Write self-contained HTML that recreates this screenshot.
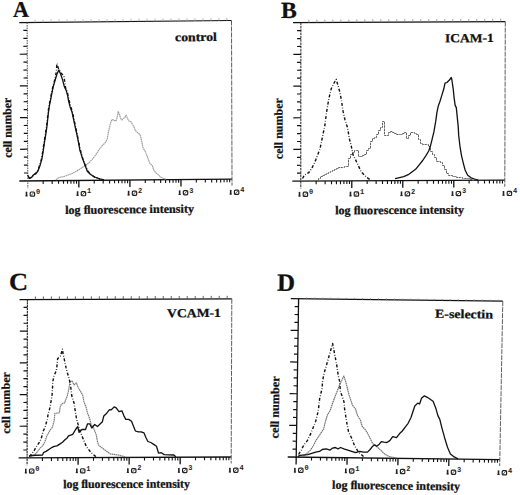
<!DOCTYPE html>
<html><head><meta charset="utf-8"><style>
html,body{margin:0;padding:0;background:#fff;}
body{width:520px;height:495px;overflow:hidden;}
svg{display:block;}
.t{font-family:"Liberation Serif",serif;font-weight:bold;fill:#111;stroke:#111;stroke-width:0.25px;}
.m{font-family:"Liberation Mono",monospace;font-weight:bold;fill:#222;}
</style></head><body>
<svg width="520" height="495" viewBox="0 0 520 495">
<rect width="520" height="495" fill="#fff"/>
<line x1="19.28" y1="22.58" x2="231.5" y2="20.5" stroke="#111" stroke-width="1.25"/>
<line x1="19.29" y1="180.98" x2="232" y2="179.1" stroke="#111" stroke-width="1.3"/>
<line x1="27.1" y1="22.5" x2="27.83" y2="188.2" stroke="#555" stroke-width="1.0" stroke-dasharray="1.6 0.9"/>
<line x1="231.5" y1="20.5" x2="232.02" y2="185.61" stroke="#555" stroke-width="0.95" stroke-dasharray="5 1"/>
<line x1="23.33" y1="30.46" x2="27.14" y2="30.42" stroke="#111" stroke-width="1.2"/>
<line x1="23.36" y1="38.38" x2="27.17" y2="38.34" stroke="#111" stroke-width="1.2"/>
<line x1="23.4" y1="46.3" x2="27.2" y2="46.26" stroke="#111" stroke-width="1.2"/>
<line x1="19.73" y1="54.25" x2="27.24" y2="54.18" stroke="#111" stroke-width="1.2"/>
<line x1="23.47" y1="62.14" x2="27.28" y2="62.1" stroke="#111" stroke-width="1.2"/>
<line x1="23.5" y1="70.06" x2="27.31" y2="70.02" stroke="#111" stroke-width="1.2"/>
<line x1="23.54" y1="77.98" x2="27.35" y2="77.94" stroke="#111" stroke-width="1.2"/>
<line x1="19.87" y1="85.93" x2="27.38" y2="85.86" stroke="#111" stroke-width="1.2"/>
<line x1="23.61" y1="93.82" x2="27.41" y2="93.78" stroke="#111" stroke-width="1.2"/>
<line x1="23.64" y1="101.74" x2="27.45" y2="101.7" stroke="#111" stroke-width="1.2"/>
<line x1="23.68" y1="109.66" x2="27.48" y2="109.62" stroke="#111" stroke-width="1.2"/>
<line x1="20.01" y1="117.61" x2="27.52" y2="117.54" stroke="#111" stroke-width="1.2"/>
<line x1="23.75" y1="125.49" x2="27.55" y2="125.46" stroke="#111" stroke-width="1.2"/>
<line x1="23.79" y1="133.41" x2="27.59" y2="133.38" stroke="#111" stroke-width="1.2"/>
<line x1="23.82" y1="141.33" x2="27.62" y2="141.3" stroke="#111" stroke-width="1.2"/>
<line x1="20.15" y1="149.29" x2="27.66" y2="149.22" stroke="#111" stroke-width="1.2"/>
<line x1="23.89" y1="157.17" x2="27.7" y2="157.14" stroke="#111" stroke-width="1.2"/>
<line x1="23.93" y1="165.09" x2="27.73" y2="165.06" stroke="#111" stroke-width="1.2"/>
<line x1="23.96" y1="173.01" x2="27.77" y2="172.98" stroke="#111" stroke-width="1.2"/>
<line x1="35.08" y1="19.62" x2="35.09" y2="22.42" stroke="#aaa" stroke-width="0.8"/>
<line x1="43.07" y1="19.54" x2="43.08" y2="22.34" stroke="#aaa" stroke-width="0.8"/>
<line x1="51.06" y1="19.46" x2="51.07" y2="22.27" stroke="#aaa" stroke-width="0.8"/>
<line x1="59.05" y1="19.39" x2="59.07" y2="22.19" stroke="#aaa" stroke-width="0.8"/>
<line x1="67.05" y1="19.31" x2="67.06" y2="22.11" stroke="#aaa" stroke-width="0.8"/>
<line x1="75.04" y1="19.23" x2="75.05" y2="22.03" stroke="#aaa" stroke-width="0.8"/>
<line x1="83.03" y1="19.15" x2="83.04" y2="21.95" stroke="#aaa" stroke-width="0.8"/>
<line x1="91.02" y1="19.07" x2="91.03" y2="21.87" stroke="#aaa" stroke-width="0.8"/>
<line x1="99.01" y1="18.99" x2="99.02" y2="21.8" stroke="#aaa" stroke-width="0.8"/>
<line x1="107.01" y1="18.92" x2="107.02" y2="21.72" stroke="#aaa" stroke-width="0.8"/>
<line x1="115" y1="18.84" x2="115.01" y2="21.64" stroke="#aaa" stroke-width="0.8"/>
<line x1="122.99" y1="18.76" x2="123" y2="21.56" stroke="#aaa" stroke-width="0.8"/>
<line x1="130.98" y1="18.68" x2="130.99" y2="21.48" stroke="#aaa" stroke-width="0.8"/>
<line x1="138.97" y1="18.6" x2="138.98" y2="21.41" stroke="#aaa" stroke-width="0.8"/>
<line x1="146.96" y1="18.52" x2="146.97" y2="21.33" stroke="#aaa" stroke-width="0.8"/>
<line x1="154.96" y1="18.45" x2="154.97" y2="21.25" stroke="#aaa" stroke-width="0.8"/>
<line x1="162.95" y1="18.37" x2="162.96" y2="21.17" stroke="#aaa" stroke-width="0.8"/>
<line x1="170.94" y1="18.29" x2="170.95" y2="21.09" stroke="#aaa" stroke-width="0.8"/>
<line x1="178.93" y1="18.21" x2="178.94" y2="21.01" stroke="#aaa" stroke-width="0.8"/>
<line x1="186.92" y1="18.13" x2="186.93" y2="20.94" stroke="#aaa" stroke-width="0.8"/>
<line x1="194.91" y1="18.05" x2="194.92" y2="20.86" stroke="#aaa" stroke-width="0.8"/>
<line x1="202.91" y1="17.98" x2="202.92" y2="20.78" stroke="#aaa" stroke-width="0.8"/>
<line x1="210.9" y1="17.9" x2="210.91" y2="20.7" stroke="#aaa" stroke-width="0.8"/>
<line x1="218.89" y1="17.82" x2="218.9" y2="20.62" stroke="#aaa" stroke-width="0.8"/>
<line x1="226.88" y1="17.74" x2="226.89" y2="20.55" stroke="#aaa" stroke-width="0.8"/>
<line x1="43.17" y1="180.76" x2="43.18" y2="183.96" stroke="#111" stroke-width="1.1"/>
<line x1="52.16" y1="180.69" x2="52.17" y2="183.89" stroke="#111" stroke-width="1.1"/>
<line x1="58.54" y1="180.63" x2="58.55" y2="183.83" stroke="#111" stroke-width="1.1"/>
<line x1="63.48" y1="180.59" x2="63.5" y2="183.79" stroke="#111" stroke-width="1.1"/>
<line x1="67.52" y1="180.55" x2="67.54" y2="183.75" stroke="#111" stroke-width="1.1"/>
<line x1="70.94" y1="180.52" x2="70.96" y2="183.72" stroke="#111" stroke-width="1.1"/>
<line x1="73.9" y1="180.49" x2="73.92" y2="183.69" stroke="#111" stroke-width="1.1"/>
<line x1="76.51" y1="180.47" x2="76.53" y2="183.67" stroke="#111" stroke-width="1.1"/>
<line x1="94.22" y1="180.31" x2="94.23" y2="183.52" stroke="#111" stroke-width="1.1"/>
<line x1="103.21" y1="180.24" x2="103.22" y2="183.44" stroke="#111" stroke-width="1.1"/>
<line x1="109.59" y1="180.18" x2="109.6" y2="183.38" stroke="#111" stroke-width="1.1"/>
<line x1="114.53" y1="180.14" x2="114.54" y2="183.34" stroke="#111" stroke-width="1.1"/>
<line x1="118.57" y1="180.1" x2="118.59" y2="183.3" stroke="#111" stroke-width="1.1"/>
<line x1="121.99" y1="180.07" x2="122" y2="183.27" stroke="#111" stroke-width="1.1"/>
<line x1="124.95" y1="180.04" x2="124.96" y2="183.25" stroke="#111" stroke-width="1.1"/>
<line x1="127.56" y1="180.02" x2="127.58" y2="183.22" stroke="#111" stroke-width="1.1"/>
<line x1="145.27" y1="179.86" x2="145.28" y2="183.07" stroke="#111" stroke-width="1.1"/>
<line x1="154.26" y1="179.79" x2="154.27" y2="182.99" stroke="#111" stroke-width="1.1"/>
<line x1="160.64" y1="179.73" x2="160.65" y2="182.93" stroke="#111" stroke-width="1.1"/>
<line x1="165.58" y1="179.69" x2="165.59" y2="182.89" stroke="#111" stroke-width="1.1"/>
<line x1="169.62" y1="179.65" x2="169.64" y2="182.85" stroke="#111" stroke-width="1.1"/>
<line x1="173.04" y1="179.62" x2="173.05" y2="182.82" stroke="#111" stroke-width="1.1"/>
<line x1="176" y1="179.59" x2="176.01" y2="182.8" stroke="#111" stroke-width="1.1"/>
<line x1="178.61" y1="179.57" x2="178.63" y2="182.77" stroke="#111" stroke-width="1.1"/>
<line x1="196.32" y1="179.41" x2="196.33" y2="182.62" stroke="#111" stroke-width="1.1"/>
<line x1="205.31" y1="179.34" x2="205.32" y2="182.54" stroke="#111" stroke-width="1.1"/>
<line x1="211.69" y1="179.28" x2="211.7" y2="182.48" stroke="#111" stroke-width="1.1"/>
<line x1="216.63" y1="179.24" x2="216.64" y2="182.44" stroke="#111" stroke-width="1.1"/>
<line x1="220.67" y1="179.2" x2="220.68" y2="182.4" stroke="#111" stroke-width="1.1"/>
<line x1="224.09" y1="179.17" x2="224.1" y2="182.37" stroke="#111" stroke-width="1.1"/>
<line x1="227.05" y1="179.14" x2="227.06" y2="182.35" stroke="#111" stroke-width="1.1"/>
<line x1="229.66" y1="179.12" x2="229.67" y2="182.32" stroke="#111" stroke-width="1.1"/>
<line x1="78.85" y1="180.45" x2="78.88" y2="187.45" stroke="#111" stroke-width="1.3"/>
<line x1="129.9" y1="180" x2="129.93" y2="187" stroke="#111" stroke-width="1.3"/>
<line x1="180.95" y1="179.55" x2="180.97" y2="186.56" stroke="#111" stroke-width="1.3"/>
<rect x="25.7" y="191.7" width="1.6" height="4.6" fill="#222"/>
<rect x="25.4" y="195.4" width="2.2" height="0.9" fill="#222"/>
<rect x="30.2" y="192" width="4.4" height="4.2" rx="1" fill="none" stroke="#222" stroke-width="1.2"/>
<line x1="30.5" y1="196" x2="34.3" y2="192.1" stroke="#444" stroke-width="0.9"/>
<text class="m" x="36" y="193.9" font-size="7">0</text>
<rect x="76.75" y="191.25" width="1.6" height="4.6" fill="#222"/>
<rect x="76.45" y="194.95" width="2.2" height="0.9" fill="#222"/>
<rect x="81.25" y="191.55" width="4.4" height="4.2" rx="1" fill="none" stroke="#222" stroke-width="1.2"/>
<line x1="81.55" y1="195.55" x2="85.35" y2="191.65" stroke="#444" stroke-width="0.9"/>
<text class="m" x="87.05" y="193.45" font-size="7">1</text>
<rect x="127.8" y="190.8" width="1.6" height="4.6" fill="#222"/>
<rect x="127.5" y="194.5" width="2.2" height="0.9" fill="#222"/>
<rect x="132.3" y="191.1" width="4.4" height="4.2" rx="1" fill="none" stroke="#222" stroke-width="1.2"/>
<line x1="132.6" y1="195.1" x2="136.4" y2="191.2" stroke="#444" stroke-width="0.9"/>
<text class="m" x="138.1" y="193" font-size="7">2</text>
<rect x="178.85" y="190.35" width="1.6" height="4.6" fill="#222"/>
<rect x="178.55" y="194.05" width="2.2" height="0.9" fill="#222"/>
<rect x="183.35" y="190.65" width="4.4" height="4.2" rx="1" fill="none" stroke="#222" stroke-width="1.2"/>
<line x1="183.65" y1="194.65" x2="187.45" y2="190.75" stroke="#444" stroke-width="0.9"/>
<text class="m" x="189.15" y="192.55" font-size="7">3</text>
<rect x="229.9" y="189.9" width="1.6" height="4.6" fill="#222"/>
<rect x="229.6" y="193.6" width="2.2" height="0.9" fill="#222"/>
<rect x="234.4" y="190.2" width="4.4" height="4.2" rx="1" fill="none" stroke="#222" stroke-width="1.2"/>
<line x1="234.7" y1="194.2" x2="238.5" y2="190.3" stroke="#444" stroke-width="0.9"/>
<text class="m" x="240.2" y="192.1" font-size="7">4</text>
<text class="t" x="12.97" y="16.91" font-size="22.46" textLength="16.01" lengthAdjust="spacingAndGlyphs" transform="rotate(-0.56 12.97 16.91)">A</text>
<text class="t" x="175.01" y="41.35" font-size="12.3" textLength="41.96" lengthAdjust="spacingAndGlyphs" transform="rotate(-0.56 175.01 41.35)">control</text>
<text class="t" x="11.66" y="157.8" font-size="11.9" textLength="60.19" lengthAdjust="spacingAndGlyphs" transform="rotate(-90.56 11.66 157.8)">cell number</text>
<text class="t" x="65.21" y="213.95" font-size="12.0" textLength="128.78" lengthAdjust="spacingAndGlyphs" transform="rotate(-0.56 65.21 213.95)">log ﬂuorescence intensity</text>
<line x1="293.08" y1="22.74" x2="505.3" y2="21.6" stroke="#111" stroke-width="1.25"/>
<line x1="292.3" y1="181.14" x2="504.8" y2="180.2" stroke="#111" stroke-width="1.3"/>
<line x1="300.9" y1="22.7" x2="300.8" y2="188.4" stroke="#222" stroke-width="1.0" stroke-dasharray="2.5 0.8"/>
<line x1="505.3" y1="21.6" x2="504.78" y2="186.71" stroke="#555" stroke-width="0.95" stroke-dasharray="5 1"/>
<line x1="297.09" y1="30.64" x2="300.89" y2="30.62" stroke="#111" stroke-width="1.2"/>
<line x1="297.08" y1="38.56" x2="300.89" y2="38.54" stroke="#111" stroke-width="1.2"/>
<line x1="297.08" y1="46.48" x2="300.88" y2="46.46" stroke="#111" stroke-width="1.2"/>
<line x1="293.37" y1="54.42" x2="300.88" y2="54.38" stroke="#111" stroke-width="1.2"/>
<line x1="297.07" y1="62.32" x2="300.88" y2="62.3" stroke="#111" stroke-width="1.2"/>
<line x1="297.06" y1="70.24" x2="300.87" y2="70.22" stroke="#111" stroke-width="1.2"/>
<line x1="297.06" y1="78.16" x2="300.87" y2="78.14" stroke="#111" stroke-width="1.2"/>
<line x1="293.35" y1="86.1" x2="300.86" y2="86.06" stroke="#111" stroke-width="1.2"/>
<line x1="297.05" y1="94" x2="300.86" y2="93.98" stroke="#111" stroke-width="1.2"/>
<line x1="297.05" y1="101.92" x2="300.85" y2="101.9" stroke="#111" stroke-width="1.2"/>
<line x1="297.04" y1="109.84" x2="300.85" y2="109.82" stroke="#111" stroke-width="1.2"/>
<line x1="293.33" y1="117.78" x2="300.84" y2="117.74" stroke="#111" stroke-width="1.2"/>
<line x1="297.03" y1="125.68" x2="300.83" y2="125.66" stroke="#111" stroke-width="1.2"/>
<line x1="297.03" y1="133.6" x2="300.83" y2="133.58" stroke="#111" stroke-width="1.2"/>
<line x1="297.02" y1="141.52" x2="300.83" y2="141.5" stroke="#111" stroke-width="1.2"/>
<line x1="293.32" y1="149.45" x2="300.82" y2="149.42" stroke="#111" stroke-width="1.2"/>
<line x1="297.01" y1="157.36" x2="300.81" y2="157.34" stroke="#111" stroke-width="1.2"/>
<line x1="297.01" y1="165.28" x2="300.81" y2="165.26" stroke="#111" stroke-width="1.2"/>
<line x1="297" y1="173.2" x2="300.81" y2="173.18" stroke="#111" stroke-width="1.2"/>
<line x1="308.89" y1="19.66" x2="308.89" y2="22.66" stroke="#888" stroke-width="0.8"/>
<line x1="316.89" y1="19.61" x2="316.88" y2="22.61" stroke="#888" stroke-width="0.8"/>
<line x1="324.88" y1="19.57" x2="324.87" y2="22.57" stroke="#888" stroke-width="0.8"/>
<line x1="332.87" y1="19.53" x2="332.87" y2="22.53" stroke="#888" stroke-width="0.8"/>
<line x1="340.86" y1="19.48" x2="340.86" y2="22.48" stroke="#888" stroke-width="0.8"/>
<line x1="348.85" y1="19.44" x2="348.85" y2="22.44" stroke="#888" stroke-width="0.8"/>
<line x1="356.85" y1="19.4" x2="356.84" y2="22.4" stroke="#888" stroke-width="0.8"/>
<line x1="364.84" y1="19.35" x2="364.83" y2="22.36" stroke="#888" stroke-width="0.8"/>
<line x1="372.83" y1="19.31" x2="372.82" y2="22.31" stroke="#888" stroke-width="0.8"/>
<line x1="380.82" y1="19.27" x2="380.82" y2="22.27" stroke="#888" stroke-width="0.8"/>
<line x1="388.81" y1="19.23" x2="388.81" y2="22.23" stroke="#888" stroke-width="0.8"/>
<line x1="396.81" y1="19.18" x2="396.8" y2="22.18" stroke="#888" stroke-width="0.8"/>
<line x1="404.8" y1="19.14" x2="404.79" y2="22.14" stroke="#888" stroke-width="0.8"/>
<line x1="412.79" y1="19.1" x2="412.78" y2="22.1" stroke="#888" stroke-width="0.8"/>
<line x1="420.78" y1="19.05" x2="420.77" y2="22.05" stroke="#888" stroke-width="0.8"/>
<line x1="428.77" y1="19.01" x2="428.77" y2="22.01" stroke="#888" stroke-width="0.8"/>
<line x1="436.76" y1="18.97" x2="436.76" y2="21.97" stroke="#888" stroke-width="0.8"/>
<line x1="444.76" y1="18.92" x2="444.75" y2="21.93" stroke="#888" stroke-width="0.8"/>
<line x1="452.75" y1="18.88" x2="452.74" y2="21.88" stroke="#888" stroke-width="0.8"/>
<line x1="460.74" y1="18.84" x2="460.73" y2="21.84" stroke="#888" stroke-width="0.8"/>
<line x1="468.73" y1="18.79" x2="468.72" y2="21.8" stroke="#888" stroke-width="0.8"/>
<line x1="476.72" y1="18.75" x2="476.72" y2="21.75" stroke="#888" stroke-width="0.8"/>
<line x1="484.72" y1="18.71" x2="484.71" y2="21.71" stroke="#888" stroke-width="0.8"/>
<line x1="492.71" y1="18.66" x2="492.7" y2="21.67" stroke="#888" stroke-width="0.8"/>
<line x1="500.7" y1="18.62" x2="500.69" y2="21.62" stroke="#888" stroke-width="0.8"/>
<line x1="316.15" y1="181.03" x2="316.15" y2="184.23" stroke="#111" stroke-width="1.1"/>
<line x1="325.13" y1="180.99" x2="325.13" y2="184.19" stroke="#111" stroke-width="1.1"/>
<line x1="331.51" y1="180.96" x2="331.5" y2="184.17" stroke="#111" stroke-width="1.1"/>
<line x1="336.45" y1="180.94" x2="336.44" y2="184.14" stroke="#111" stroke-width="1.1"/>
<line x1="340.49" y1="180.92" x2="340.48" y2="184.13" stroke="#111" stroke-width="1.1"/>
<line x1="343.9" y1="180.91" x2="343.9" y2="184.11" stroke="#111" stroke-width="1.1"/>
<line x1="346.86" y1="180.9" x2="346.85" y2="184.1" stroke="#111" stroke-width="1.1"/>
<line x1="349.47" y1="180.89" x2="349.46" y2="184.09" stroke="#111" stroke-width="1.1"/>
<line x1="367.15" y1="180.81" x2="367.15" y2="184.01" stroke="#111" stroke-width="1.1"/>
<line x1="376.13" y1="180.77" x2="376.13" y2="183.97" stroke="#111" stroke-width="1.1"/>
<line x1="382.51" y1="180.74" x2="382.5" y2="183.94" stroke="#111" stroke-width="1.1"/>
<line x1="387.45" y1="180.72" x2="387.44" y2="183.92" stroke="#111" stroke-width="1.1"/>
<line x1="391.49" y1="180.7" x2="391.48" y2="183.9" stroke="#111" stroke-width="1.1"/>
<line x1="394.9" y1="180.68" x2="394.89" y2="183.89" stroke="#111" stroke-width="1.1"/>
<line x1="397.86" y1="180.67" x2="397.85" y2="183.87" stroke="#111" stroke-width="1.1"/>
<line x1="400.47" y1="180.66" x2="400.46" y2="183.86" stroke="#111" stroke-width="1.1"/>
<line x1="418.15" y1="180.58" x2="418.15" y2="183.78" stroke="#111" stroke-width="1.1"/>
<line x1="427.13" y1="180.54" x2="427.13" y2="183.75" stroke="#111" stroke-width="1.1"/>
<line x1="433.51" y1="180.51" x2="433.5" y2="183.72" stroke="#111" stroke-width="1.1"/>
<line x1="438.45" y1="180.49" x2="438.44" y2="183.7" stroke="#111" stroke-width="1.1"/>
<line x1="442.49" y1="180.47" x2="442.48" y2="183.68" stroke="#111" stroke-width="1.1"/>
<line x1="445.9" y1="180.46" x2="445.89" y2="183.66" stroke="#111" stroke-width="1.1"/>
<line x1="448.86" y1="180.45" x2="448.85" y2="183.65" stroke="#111" stroke-width="1.1"/>
<line x1="451.47" y1="180.44" x2="451.46" y2="183.64" stroke="#111" stroke-width="1.1"/>
<line x1="469.15" y1="180.36" x2="469.14" y2="183.56" stroke="#111" stroke-width="1.1"/>
<line x1="478.13" y1="180.32" x2="478.12" y2="183.52" stroke="#111" stroke-width="1.1"/>
<line x1="484.51" y1="180.29" x2="484.5" y2="183.49" stroke="#111" stroke-width="1.1"/>
<line x1="489.45" y1="180.27" x2="489.44" y2="183.47" stroke="#111" stroke-width="1.1"/>
<line x1="493.49" y1="180.25" x2="493.48" y2="183.45" stroke="#111" stroke-width="1.1"/>
<line x1="496.9" y1="180.23" x2="496.89" y2="183.44" stroke="#111" stroke-width="1.1"/>
<line x1="499.86" y1="180.22" x2="499.85" y2="183.43" stroke="#111" stroke-width="1.1"/>
<line x1="502.47" y1="180.21" x2="502.46" y2="183.41" stroke="#111" stroke-width="1.1"/>
<line x1="351.8" y1="180.88" x2="351.79" y2="187.88" stroke="#111" stroke-width="1.3"/>
<line x1="402.8" y1="180.65" x2="402.79" y2="187.65" stroke="#111" stroke-width="1.3"/>
<line x1="453.8" y1="180.42" x2="453.78" y2="187.43" stroke="#111" stroke-width="1.3"/>
<rect x="298.7" y="191.9" width="1.6" height="4.6" fill="#222"/>
<rect x="298.4" y="195.6" width="2.2" height="0.9" fill="#222"/>
<rect x="303.2" y="192.2" width="4.4" height="4.2" rx="1" fill="none" stroke="#222" stroke-width="1.2"/>
<line x1="303.5" y1="196.2" x2="307.3" y2="192.3" stroke="#444" stroke-width="0.9"/>
<text class="m" x="309" y="194.1" font-size="7">0</text>
<rect x="349.7" y="191.68" width="1.6" height="4.6" fill="#222"/>
<rect x="349.4" y="195.38" width="2.2" height="0.9" fill="#222"/>
<rect x="354.2" y="191.97" width="4.4" height="4.2" rx="1" fill="none" stroke="#222" stroke-width="1.2"/>
<line x1="354.5" y1="195.97" x2="358.3" y2="192.07" stroke="#444" stroke-width="0.9"/>
<text class="m" x="360" y="193.88" font-size="7">1</text>
<rect x="400.7" y="191.45" width="1.6" height="4.6" fill="#222"/>
<rect x="400.4" y="195.15" width="2.2" height="0.9" fill="#222"/>
<rect x="405.2" y="191.75" width="4.4" height="4.2" rx="1" fill="none" stroke="#222" stroke-width="1.2"/>
<line x1="405.5" y1="195.75" x2="409.3" y2="191.85" stroke="#444" stroke-width="0.9"/>
<text class="m" x="411" y="193.65" font-size="7">2</text>
<rect x="451.7" y="191.22" width="1.6" height="4.6" fill="#222"/>
<rect x="451.4" y="194.92" width="2.2" height="0.9" fill="#222"/>
<rect x="456.2" y="191.52" width="4.4" height="4.2" rx="1" fill="none" stroke="#222" stroke-width="1.2"/>
<line x1="456.5" y1="195.52" x2="460.3" y2="191.62" stroke="#444" stroke-width="0.9"/>
<text class="m" x="462" y="193.42" font-size="7">3</text>
<rect x="502.7" y="191" width="1.6" height="4.6" fill="#222"/>
<rect x="502.4" y="194.7" width="2.2" height="0.9" fill="#222"/>
<rect x="507.2" y="191.3" width="4.4" height="4.2" rx="1" fill="none" stroke="#222" stroke-width="1.2"/>
<line x1="507.5" y1="195.3" x2="511.3" y2="191.4" stroke="#444" stroke-width="0.9"/>
<text class="m" x="513" y="193.2" font-size="7">4</text>
<text class="t" x="281.09" y="17.87" font-size="23.16" textLength="15.86" lengthAdjust="spacingAndGlyphs" transform="rotate(-0.31 281.09 17.87)">B</text>
<text class="t" x="445.09" y="42.28" font-size="12.3" textLength="48.78" lengthAdjust="spacingAndGlyphs" transform="rotate(-0.31 445.09 42.28)">ICAM-1</text>
<text class="t" x="282.66" y="159.19" font-size="11.9" textLength="60.99" lengthAdjust="spacingAndGlyphs" transform="rotate(-90.31 282.66 159.19)">cell number</text>
<text class="t" x="335.2" y="214.36" font-size="12.0" textLength="128.79" lengthAdjust="spacingAndGlyphs" transform="rotate(-0.31 335.2 214.36)">log ﬂuorescence intensity</text>
<line x1="19.58" y1="299.53" x2="231.8" y2="298.8" stroke="#111" stroke-width="1.25"/>
<line x1="18.6" y1="457.94" x2="231.2" y2="457" stroke="#111" stroke-width="1.3"/>
<line x1="27.4" y1="299.5" x2="27.09" y2="465.2" stroke="#222" stroke-width="1.1" stroke-dasharray="2.2 0.6"/>
<line x1="231.8" y1="298.8" x2="231.18" y2="463.49" stroke="#555" stroke-width="0.95" stroke-dasharray="5 1"/>
<line x1="23.58" y1="307.43" x2="27.38" y2="307.42" stroke="#111" stroke-width="1.2"/>
<line x1="23.56" y1="315.35" x2="27.37" y2="315.34" stroke="#111" stroke-width="1.2"/>
<line x1="23.55" y1="323.27" x2="27.36" y2="323.26" stroke="#111" stroke-width="1.2"/>
<line x1="19.83" y1="331.21" x2="27.34" y2="331.18" stroke="#111" stroke-width="1.2"/>
<line x1="23.52" y1="339.11" x2="27.32" y2="339.1" stroke="#111" stroke-width="1.2"/>
<line x1="23.5" y1="347.03" x2="27.31" y2="347.02" stroke="#111" stroke-width="1.2"/>
<line x1="23.49" y1="354.95" x2="27.29" y2="354.94" stroke="#111" stroke-width="1.2"/>
<line x1="19.77" y1="362.89" x2="27.28" y2="362.86" stroke="#111" stroke-width="1.2"/>
<line x1="23.46" y1="370.79" x2="27.27" y2="370.78" stroke="#111" stroke-width="1.2"/>
<line x1="23.45" y1="378.71" x2="27.25" y2="378.7" stroke="#111" stroke-width="1.2"/>
<line x1="23.43" y1="386.64" x2="27.23" y2="386.62" stroke="#111" stroke-width="1.2"/>
<line x1="19.71" y1="394.57" x2="27.22" y2="394.54" stroke="#111" stroke-width="1.2"/>
<line x1="23.4" y1="402.48" x2="27.2" y2="402.46" stroke="#111" stroke-width="1.2"/>
<line x1="23.39" y1="410.4" x2="27.19" y2="410.38" stroke="#111" stroke-width="1.2"/>
<line x1="23.37" y1="418.32" x2="27.18" y2="418.3" stroke="#111" stroke-width="1.2"/>
<line x1="19.65" y1="426.25" x2="27.16" y2="426.22" stroke="#111" stroke-width="1.2"/>
<line x1="23.34" y1="434.16" x2="27.15" y2="434.14" stroke="#111" stroke-width="1.2"/>
<line x1="23.33" y1="442.08" x2="27.13" y2="442.06" stroke="#111" stroke-width="1.2"/>
<line x1="23.31" y1="450" x2="27.12" y2="449.98" stroke="#111" stroke-width="1.2"/>
<line x1="35.4" y1="296.47" x2="35.39" y2="299.47" stroke="#555" stroke-width="0.9"/>
<line x1="43.39" y1="296.45" x2="43.38" y2="299.45" stroke="#555" stroke-width="0.9"/>
<line x1="51.38" y1="296.42" x2="51.37" y2="299.42" stroke="#555" stroke-width="0.9"/>
<line x1="59.37" y1="296.39" x2="59.37" y2="299.39" stroke="#555" stroke-width="0.9"/>
<line x1="67.36" y1="296.36" x2="67.36" y2="299.36" stroke="#555" stroke-width="0.9"/>
<line x1="75.36" y1="296.34" x2="75.35" y2="299.34" stroke="#555" stroke-width="0.9"/>
<line x1="83.35" y1="296.31" x2="83.34" y2="299.31" stroke="#555" stroke-width="0.9"/>
<line x1="91.34" y1="296.28" x2="91.33" y2="299.28" stroke="#555" stroke-width="0.9"/>
<line x1="99.33" y1="296.26" x2="99.32" y2="299.25" stroke="#555" stroke-width="0.9"/>
<line x1="107.32" y1="296.23" x2="107.32" y2="299.23" stroke="#555" stroke-width="0.9"/>
<line x1="115.32" y1="296.2" x2="115.31" y2="299.2" stroke="#555" stroke-width="0.9"/>
<line x1="123.31" y1="296.17" x2="123.3" y2="299.17" stroke="#555" stroke-width="0.9"/>
<line x1="131.3" y1="296.15" x2="131.29" y2="299.14" stroke="#555" stroke-width="0.9"/>
<line x1="139.29" y1="296.12" x2="139.28" y2="299.12" stroke="#555" stroke-width="0.9"/>
<line x1="147.28" y1="296.09" x2="147.27" y2="299.09" stroke="#555" stroke-width="0.9"/>
<line x1="155.28" y1="296.06" x2="155.27" y2="299.06" stroke="#555" stroke-width="0.9"/>
<line x1="163.27" y1="296.04" x2="163.26" y2="299.03" stroke="#555" stroke-width="0.9"/>
<line x1="171.26" y1="296.01" x2="171.25" y2="299.01" stroke="#555" stroke-width="0.9"/>
<line x1="179.25" y1="295.98" x2="179.24" y2="298.98" stroke="#555" stroke-width="0.9"/>
<line x1="187.24" y1="295.96" x2="187.23" y2="298.95" stroke="#555" stroke-width="0.9"/>
<line x1="195.23" y1="295.93" x2="195.22" y2="298.93" stroke="#555" stroke-width="0.9"/>
<line x1="203.23" y1="295.9" x2="203.22" y2="298.9" stroke="#555" stroke-width="0.9"/>
<line x1="211.22" y1="295.87" x2="211.21" y2="298.87" stroke="#555" stroke-width="0.9"/>
<line x1="219.21" y1="295.85" x2="219.2" y2="298.84" stroke="#555" stroke-width="0.9"/>
<line x1="227.2" y1="295.82" x2="227.19" y2="298.82" stroke="#555" stroke-width="0.9"/>
<line x1="42.46" y1="457.83" x2="42.45" y2="461.03" stroke="#111" stroke-width="1.1"/>
<line x1="51.45" y1="457.79" x2="51.44" y2="460.99" stroke="#111" stroke-width="1.1"/>
<line x1="57.82" y1="457.76" x2="57.81" y2="460.96" stroke="#111" stroke-width="1.1"/>
<line x1="62.76" y1="457.74" x2="62.76" y2="460.94" stroke="#111" stroke-width="1.1"/>
<line x1="66.81" y1="457.72" x2="66.8" y2="460.92" stroke="#111" stroke-width="1.1"/>
<line x1="70.22" y1="457.71" x2="70.21" y2="460.91" stroke="#111" stroke-width="1.1"/>
<line x1="73.18" y1="457.7" x2="73.17" y2="460.9" stroke="#111" stroke-width="1.1"/>
<line x1="75.79" y1="457.69" x2="75.78" y2="460.88" stroke="#111" stroke-width="1.1"/>
<line x1="93.49" y1="457.61" x2="93.48" y2="460.81" stroke="#111" stroke-width="1.1"/>
<line x1="102.47" y1="457.57" x2="102.46" y2="460.77" stroke="#111" stroke-width="1.1"/>
<line x1="108.85" y1="457.54" x2="108.84" y2="460.74" stroke="#111" stroke-width="1.1"/>
<line x1="113.79" y1="457.52" x2="113.78" y2="460.72" stroke="#111" stroke-width="1.1"/>
<line x1="117.83" y1="457.5" x2="117.82" y2="460.7" stroke="#111" stroke-width="1.1"/>
<line x1="121.25" y1="457.48" x2="121.24" y2="460.68" stroke="#111" stroke-width="1.1"/>
<line x1="124.21" y1="457.47" x2="124.2" y2="460.67" stroke="#111" stroke-width="1.1"/>
<line x1="126.82" y1="457.46" x2="126.81" y2="460.66" stroke="#111" stroke-width="1.1"/>
<line x1="144.51" y1="457.38" x2="144.5" y2="460.58" stroke="#111" stroke-width="1.1"/>
<line x1="153.5" y1="457.34" x2="153.49" y2="460.54" stroke="#111" stroke-width="1.1"/>
<line x1="159.87" y1="457.31" x2="159.86" y2="460.51" stroke="#111" stroke-width="1.1"/>
<line x1="164.81" y1="457.29" x2="164.8" y2="460.49" stroke="#111" stroke-width="1.1"/>
<line x1="168.86" y1="457.27" x2="168.84" y2="460.47" stroke="#111" stroke-width="1.1"/>
<line x1="172.27" y1="457.26" x2="172.26" y2="460.46" stroke="#111" stroke-width="1.1"/>
<line x1="175.23" y1="457.25" x2="175.22" y2="460.44" stroke="#111" stroke-width="1.1"/>
<line x1="177.84" y1="457.24" x2="177.83" y2="460.43" stroke="#111" stroke-width="1.1"/>
<line x1="195.54" y1="457.16" x2="195.52" y2="460.35" stroke="#111" stroke-width="1.1"/>
<line x1="204.52" y1="457.12" x2="204.51" y2="460.31" stroke="#111" stroke-width="1.1"/>
<line x1="210.9" y1="457.09" x2="210.88" y2="460.29" stroke="#111" stroke-width="1.1"/>
<line x1="215.84" y1="457.07" x2="215.83" y2="460.26" stroke="#111" stroke-width="1.1"/>
<line x1="219.88" y1="457.05" x2="219.87" y2="460.25" stroke="#111" stroke-width="1.1"/>
<line x1="223.3" y1="457.03" x2="223.28" y2="460.23" stroke="#111" stroke-width="1.1"/>
<line x1="226.26" y1="457.02" x2="226.24" y2="460.22" stroke="#111" stroke-width="1.1"/>
<line x1="228.87" y1="457.01" x2="228.85" y2="460.21" stroke="#111" stroke-width="1.1"/>
<line x1="78.12" y1="457.67" x2="78.11" y2="464.67" stroke="#111" stroke-width="1.3"/>
<line x1="129.15" y1="457.45" x2="129.13" y2="464.45" stroke="#111" stroke-width="1.3"/>
<line x1="180.17" y1="457.23" x2="180.15" y2="464.22" stroke="#111" stroke-width="1.3"/>
<rect x="25" y="468.7" width="1.6" height="4.6" fill="#222"/>
<rect x="24.7" y="472.4" width="2.2" height="0.9" fill="#222"/>
<rect x="29.5" y="469" width="4.4" height="4.2" rx="1" fill="none" stroke="#222" stroke-width="1.2"/>
<line x1="29.8" y1="473" x2="33.6" y2="469.1" stroke="#444" stroke-width="0.9"/>
<text class="m" x="35.3" y="470.9" font-size="7">0</text>
<rect x="76.03" y="468.47" width="1.6" height="4.6" fill="#222"/>
<rect x="75.72" y="472.17" width="2.2" height="0.9" fill="#222"/>
<rect x="80.53" y="468.77" width="4.4" height="4.2" rx="1" fill="none" stroke="#222" stroke-width="1.2"/>
<line x1="80.83" y1="472.77" x2="84.62" y2="468.87" stroke="#444" stroke-width="0.9"/>
<text class="m" x="86.33" y="470.67" font-size="7">1</text>
<rect x="127.05" y="468.25" width="1.6" height="4.6" fill="#222"/>
<rect x="126.75" y="471.95" width="2.2" height="0.9" fill="#222"/>
<rect x="131.55" y="468.55" width="4.4" height="4.2" rx="1" fill="none" stroke="#222" stroke-width="1.2"/>
<line x1="131.85" y1="472.55" x2="135.65" y2="468.65" stroke="#444" stroke-width="0.9"/>
<text class="m" x="137.35" y="470.45" font-size="7">2</text>
<rect x="178.07" y="468.03" width="1.6" height="4.6" fill="#222"/>
<rect x="177.77" y="471.73" width="2.2" height="0.9" fill="#222"/>
<rect x="182.57" y="468.33" width="4.4" height="4.2" rx="1" fill="none" stroke="#222" stroke-width="1.2"/>
<line x1="182.87" y1="472.33" x2="186.67" y2="468.43" stroke="#444" stroke-width="0.9"/>
<text class="m" x="188.37" y="470.23" font-size="7">3</text>
<rect x="229.1" y="467.8" width="1.6" height="4.6" fill="#222"/>
<rect x="228.8" y="471.5" width="2.2" height="0.9" fill="#222"/>
<rect x="233.6" y="468.1" width="4.4" height="4.2" rx="1" fill="none" stroke="#222" stroke-width="1.2"/>
<line x1="233.9" y1="472.1" x2="237.7" y2="468.2" stroke="#444" stroke-width="0.9"/>
<text class="m" x="239.4" y="470" font-size="7">4</text>
<text class="t" x="9.02" y="289.88" font-size="24.58" textLength="19.08" lengthAdjust="spacingAndGlyphs" transform="rotate(-0.2 9.02 289.88)">C</text>
<text class="t" x="167.06" y="317.22" font-size="12.3" textLength="53.86" lengthAdjust="spacingAndGlyphs" transform="rotate(-0.2 167.06 317.22)">VCAM-1</text>
<text class="t" x="10" y="433.73" font-size="11.9" textLength="61.65" lengthAdjust="spacingAndGlyphs" transform="rotate(-90.2 10 433.73)">cell number</text>
<text class="t" x="63.15" y="488.14" font-size="12.0" textLength="126.9" lengthAdjust="spacingAndGlyphs" transform="rotate(-0.2 63.15 488.14)">log ﬂuorescence intensity</text>
<line x1="290.79" y1="298.6" x2="502.8" y2="301.2" stroke="#111" stroke-width="1.25"/>
<line x1="287.72" y1="457" x2="499.8" y2="459.6" stroke="#111" stroke-width="1.3"/>
<line x1="298.6" y1="298.7" x2="296.09" y2="464.4" stroke="#111" stroke-width="1.3"/>
<line x1="502.8" y1="301.2" x2="499.68" y2="466.1" stroke="#555" stroke-width="0.95" stroke-dasharray="5 1"/>
<line x1="294.68" y1="306.57" x2="298.48" y2="306.62" stroke="#111" stroke-width="1.2"/>
<line x1="294.56" y1="314.49" x2="298.36" y2="314.54" stroke="#111" stroke-width="1.2"/>
<line x1="294.44" y1="322.41" x2="298.24" y2="322.46" stroke="#111" stroke-width="1.2"/>
<line x1="290.62" y1="330.29" x2="298.12" y2="330.38" stroke="#111" stroke-width="1.2"/>
<line x1="294.2" y1="338.25" x2="298" y2="338.3" stroke="#111" stroke-width="1.2"/>
<line x1="294.08" y1="346.17" x2="297.88" y2="346.22" stroke="#111" stroke-width="1.2"/>
<line x1="293.96" y1="354.09" x2="297.76" y2="354.14" stroke="#111" stroke-width="1.2"/>
<line x1="290.14" y1="361.97" x2="297.64" y2="362.06" stroke="#111" stroke-width="1.2"/>
<line x1="293.72" y1="369.93" x2="297.52" y2="369.98" stroke="#111" stroke-width="1.2"/>
<line x1="293.6" y1="377.85" x2="297.4" y2="377.9" stroke="#111" stroke-width="1.2"/>
<line x1="293.48" y1="385.77" x2="297.28" y2="385.82" stroke="#111" stroke-width="1.2"/>
<line x1="289.67" y1="393.65" x2="297.16" y2="393.74" stroke="#111" stroke-width="1.2"/>
<line x1="293.24" y1="401.61" x2="297.04" y2="401.66" stroke="#111" stroke-width="1.2"/>
<line x1="293.12" y1="409.53" x2="296.92" y2="409.58" stroke="#111" stroke-width="1.2"/>
<line x1="293" y1="417.45" x2="296.8" y2="417.5" stroke="#111" stroke-width="1.2"/>
<line x1="289.19" y1="425.33" x2="296.68" y2="425.42" stroke="#111" stroke-width="1.2"/>
<line x1="292.77" y1="433.29" x2="296.56" y2="433.34" stroke="#111" stroke-width="1.2"/>
<line x1="292.65" y1="441.21" x2="296.44" y2="441.26" stroke="#111" stroke-width="1.2"/>
<line x1="292.53" y1="449.13" x2="296.32" y2="449.18" stroke="#111" stroke-width="1.2"/>
<line x1="306.61" y1="297.3" x2="306.58" y2="298.8" stroke="#888" stroke-width="0.8"/>
<line x1="314.59" y1="297.4" x2="314.57" y2="298.9" stroke="#888" stroke-width="0.8"/>
<line x1="322.57" y1="297.49" x2="322.55" y2="298.99" stroke="#888" stroke-width="0.8"/>
<line x1="330.56" y1="297.59" x2="330.54" y2="299.09" stroke="#888" stroke-width="0.8"/>
<line x1="338.54" y1="297.69" x2="338.52" y2="299.19" stroke="#888" stroke-width="0.8"/>
<line x1="346.53" y1="297.79" x2="346.5" y2="299.29" stroke="#888" stroke-width="0.8"/>
<line x1="354.51" y1="297.88" x2="354.49" y2="299.38" stroke="#888" stroke-width="0.8"/>
<line x1="362.5" y1="297.98" x2="362.47" y2="299.48" stroke="#888" stroke-width="0.8"/>
<line x1="370.48" y1="298.08" x2="370.45" y2="299.58" stroke="#888" stroke-width="0.8"/>
<line x1="378.46" y1="298.18" x2="378.44" y2="299.68" stroke="#888" stroke-width="0.8"/>
<line x1="386.45" y1="298.28" x2="386.42" y2="299.78" stroke="#888" stroke-width="0.8"/>
<line x1="394.43" y1="298.37" x2="394.41" y2="299.87" stroke="#888" stroke-width="0.8"/>
<line x1="402.42" y1="298.47" x2="402.39" y2="299.97" stroke="#888" stroke-width="0.8"/>
<line x1="410.4" y1="298.57" x2="410.37" y2="300.07" stroke="#888" stroke-width="0.8"/>
<line x1="418.38" y1="298.67" x2="418.36" y2="300.17" stroke="#888" stroke-width="0.8"/>
<line x1="426.37" y1="298.76" x2="426.34" y2="300.26" stroke="#888" stroke-width="0.8"/>
<line x1="434.35" y1="298.86" x2="434.32" y2="300.36" stroke="#888" stroke-width="0.8"/>
<line x1="442.34" y1="298.96" x2="442.31" y2="300.46" stroke="#888" stroke-width="0.8"/>
<line x1="450.32" y1="299.06" x2="450.29" y2="300.56" stroke="#888" stroke-width="0.8"/>
<line x1="458.3" y1="299.15" x2="458.28" y2="300.65" stroke="#888" stroke-width="0.8"/>
<line x1="466.29" y1="299.25" x2="466.26" y2="300.75" stroke="#888" stroke-width="0.8"/>
<line x1="474.27" y1="299.35" x2="474.24" y2="300.85" stroke="#888" stroke-width="0.8"/>
<line x1="482.26" y1="299.45" x2="482.23" y2="300.95" stroke="#888" stroke-width="0.8"/>
<line x1="490.24" y1="299.55" x2="490.21" y2="301.05" stroke="#888" stroke-width="0.8"/>
<line x1="498.22" y1="299.64" x2="498.2" y2="301.14" stroke="#888" stroke-width="0.8"/>
<line x1="311.52" y1="457.29" x2="311.47" y2="460.49" stroke="#111" stroke-width="1.1"/>
<line x1="320.49" y1="457.4" x2="320.44" y2="460.6" stroke="#111" stroke-width="1.1"/>
<line x1="326.84" y1="457.48" x2="326.79" y2="460.68" stroke="#111" stroke-width="1.1"/>
<line x1="331.78" y1="457.54" x2="331.73" y2="460.74" stroke="#111" stroke-width="1.1"/>
<line x1="335.81" y1="457.59" x2="335.76" y2="460.79" stroke="#111" stroke-width="1.1"/>
<line x1="339.22" y1="457.63" x2="339.16" y2="460.83" stroke="#111" stroke-width="1.1"/>
<line x1="342.17" y1="457.66" x2="342.12" y2="460.86" stroke="#111" stroke-width="1.1"/>
<line x1="344.77" y1="457.7" x2="344.72" y2="460.9" stroke="#111" stroke-width="1.1"/>
<line x1="362.42" y1="457.91" x2="362.37" y2="461.11" stroke="#111" stroke-width="1.1"/>
<line x1="371.39" y1="458.02" x2="371.33" y2="461.22" stroke="#111" stroke-width="1.1"/>
<line x1="377.74" y1="458.1" x2="377.69" y2="461.3" stroke="#111" stroke-width="1.1"/>
<line x1="382.68" y1="458.16" x2="382.62" y2="461.36" stroke="#111" stroke-width="1.1"/>
<line x1="386.71" y1="458.21" x2="386.65" y2="461.41" stroke="#111" stroke-width="1.1"/>
<line x1="390.12" y1="458.25" x2="390.06" y2="461.45" stroke="#111" stroke-width="1.1"/>
<line x1="393.07" y1="458.29" x2="393.01" y2="461.49" stroke="#111" stroke-width="1.1"/>
<line x1="395.67" y1="458.32" x2="395.62" y2="461.52" stroke="#111" stroke-width="1.1"/>
<line x1="413.32" y1="458.54" x2="413.27" y2="461.74" stroke="#111" stroke-width="1.1"/>
<line x1="422.29" y1="458.65" x2="422.23" y2="461.85" stroke="#111" stroke-width="1.1"/>
<line x1="428.64" y1="458.73" x2="428.59" y2="461.93" stroke="#111" stroke-width="1.1"/>
<line x1="433.58" y1="458.79" x2="433.52" y2="461.99" stroke="#111" stroke-width="1.1"/>
<line x1="437.61" y1="458.84" x2="437.55" y2="462.04" stroke="#111" stroke-width="1.1"/>
<line x1="441.02" y1="458.88" x2="440.96" y2="462.08" stroke="#111" stroke-width="1.1"/>
<line x1="443.97" y1="458.91" x2="443.91" y2="462.11" stroke="#111" stroke-width="1.1"/>
<line x1="446.57" y1="458.95" x2="446.51" y2="462.15" stroke="#111" stroke-width="1.1"/>
<line x1="464.22" y1="459.16" x2="464.16" y2="462.36" stroke="#111" stroke-width="1.1"/>
<line x1="473.19" y1="459.27" x2="473.13" y2="462.47" stroke="#111" stroke-width="1.1"/>
<line x1="479.54" y1="459.35" x2="479.49" y2="462.55" stroke="#111" stroke-width="1.1"/>
<line x1="484.48" y1="459.41" x2="484.42" y2="462.61" stroke="#111" stroke-width="1.1"/>
<line x1="488.51" y1="459.46" x2="488.45" y2="462.66" stroke="#111" stroke-width="1.1"/>
<line x1="491.92" y1="459.5" x2="491.86" y2="462.7" stroke="#111" stroke-width="1.1"/>
<line x1="494.87" y1="459.54" x2="494.81" y2="462.74" stroke="#111" stroke-width="1.1"/>
<line x1="497.47" y1="459.57" x2="497.41" y2="462.77" stroke="#111" stroke-width="1.1"/>
<line x1="347.1" y1="457.73" x2="346.99" y2="464.73" stroke="#111" stroke-width="1.3"/>
<line x1="398" y1="458.35" x2="397.88" y2="465.35" stroke="#111" stroke-width="1.3"/>
<line x1="448.9" y1="458.98" x2="448.77" y2="465.98" stroke="#111" stroke-width="1.3"/>
<rect x="294.1" y="467.9" width="1.6" height="4.6" fill="#222"/>
<rect x="293.8" y="471.6" width="2.2" height="0.9" fill="#222"/>
<rect x="298.6" y="468.2" width="4.4" height="4.2" rx="1" fill="none" stroke="#222" stroke-width="1.2"/>
<line x1="298.9" y1="472.2" x2="302.7" y2="468.3" stroke="#444" stroke-width="0.9"/>
<text class="m" x="304.4" y="470.1" font-size="7">0</text>
<rect x="345" y="468.53" width="1.6" height="4.6" fill="#222"/>
<rect x="344.7" y="472.23" width="2.2" height="0.9" fill="#222"/>
<rect x="349.5" y="468.83" width="4.4" height="4.2" rx="1" fill="none" stroke="#222" stroke-width="1.2"/>
<line x1="349.8" y1="472.83" x2="353.6" y2="468.93" stroke="#444" stroke-width="0.9"/>
<text class="m" x="355.3" y="470.73" font-size="7">1</text>
<rect x="395.9" y="469.15" width="1.6" height="4.6" fill="#222"/>
<rect x="395.6" y="472.85" width="2.2" height="0.9" fill="#222"/>
<rect x="400.4" y="469.45" width="4.4" height="4.2" rx="1" fill="none" stroke="#222" stroke-width="1.2"/>
<line x1="400.7" y1="473.45" x2="404.5" y2="469.55" stroke="#444" stroke-width="0.9"/>
<text class="m" x="406.2" y="471.35" font-size="7">2</text>
<rect x="446.8" y="469.78" width="1.6" height="4.6" fill="#222"/>
<rect x="446.5" y="473.48" width="2.2" height="0.9" fill="#222"/>
<rect x="451.3" y="470.08" width="4.4" height="4.2" rx="1" fill="none" stroke="#222" stroke-width="1.2"/>
<line x1="451.6" y1="474.08" x2="455.4" y2="470.18" stroke="#444" stroke-width="0.9"/>
<text class="m" x="457.1" y="471.98" font-size="7">3</text>
<rect x="497.7" y="470.4" width="1.6" height="4.6" fill="#222"/>
<rect x="497.4" y="474.1" width="2.2" height="0.9" fill="#222"/>
<rect x="502.2" y="470.7" width="4.4" height="4.2" rx="1" fill="none" stroke="#222" stroke-width="1.2"/>
<line x1="502.5" y1="474.7" x2="506.3" y2="470.8" stroke="#444" stroke-width="0.9"/>
<text class="m" x="508" y="472.6" font-size="7">4</text>
<text class="t" x="277.02" y="290.76" font-size="24.82" textLength="17.95" lengthAdjust="spacingAndGlyphs" transform="rotate(0.7 277.02 290.76)">D</text>
<text class="t" x="435.08" y="317.81" font-size="12.3" textLength="57.84" lengthAdjust="spacingAndGlyphs" transform="rotate(0.7 435.08 317.81)">E-selectin</text>
<text class="t" x="278.48" y="438.39" font-size="11.9" textLength="61.97" lengthAdjust="spacingAndGlyphs" transform="rotate(-89.3 278.48 438.39)">cell number</text>
<text class="t" x="332.11" y="488.81" font-size="12.0" textLength="128" lengthAdjust="spacingAndGlyphs" transform="rotate(0.7 332.11 488.81)">log ﬂuorescence intensity</text>
<polyline points="56,180 58.3,177.8 64.9,176.2 71.6,173.7 76.5,171.2 81.5,167.9 85.6,165.4 89.8,162.1 94.7,156.3 98.9,150 101.8,146.1 105.5,142.4 107.3,138.8 108.5,131.5 109.7,126.7 110.9,121.8 112.1,119.4 115.8,121.2 117,118.2 118.2,111.5 119.4,114.5 120.6,118.2 121.8,120 123.6,118.2 124.8,117.6 126.1,115.2 127.3,118.2 129.1,121.2 130.9,121.8 132.7,124.8 133.9,126.7 135.2,130.3 137.6,132.7 140,134.5 141.3,139.5 143.1,148 144.9,150.7 146.7,155.1 148.4,159.6 149.8,163.1 152.4,165.8 153.8,170.2 156,172.9 158.7,175.1 160.9,177.3 163.1,178.2 166,179.3" fill="none" stroke="#999" stroke-width="1.15" stroke-linejoin="round" stroke-dasharray="1.6 0.5"/>
<polyline points="28.5,178 30.5,177.8 33.2,175.5 35.8,173.2 37.7,170.5 39.6,165.5 41.5,159 42.8,151.2 44.1,142.2 45.4,134.4 46.7,125.4 47.5,118 48.2,111.5 49.1,105.2 50.4,99 51.6,92.7 52.9,86.4 54.7,80 56.3,72 56.9,63.5 58.3,68 61,73 63.8,75.8 64.8,82 65.6,88 67.5,93 69,100 70.6,106 72.4,112 73.9,119 75.4,126 77.1,134 78.7,142 80.3,150 82.6,158 85.2,165 87.7,171 91,174.8 95,177.3 100,179.2" fill="none" stroke="#111" stroke-width="1.4" stroke-linejoin="round" stroke-dasharray="3 1.8 0.7 1.8"/>
<polyline points="27.6,175 29.5,178.4 31.5,177.5 33.4,174.9 36,173.6 37.9,171 39.9,165.9 41.8,159.4 43.1,151.6 44.4,142.6 45.7,134.8 47,125.8 47.8,118.2 48.5,111.9 49.4,105.6 50.7,99.4 51.9,93.1 53.2,86.8 55,80.6 56.9,74.3 58.8,69.9 60.7,74.3 62.6,79.9 64.4,86.8 66.3,90.6 67.6,95.6 68.8,101.9 70.1,106.9 72,111.9 73.5,119 75,126 76.7,133.5 78.3,141.4 79.8,149.7 82.3,157.9 84.8,164.6 87.3,171.2 90.6,174.5 94.7,177 99.7,178.8 104,179.8" fill="none" stroke="#111" stroke-width="1.3" stroke-linejoin="round"/>
<path d="M318.5,180.5 V178.5 H320.5 V176.5 H322.5 V175.5 H324.5 V174.5 H326.5 V173.5 H328.5 V172.5 H330.5 V171.5 H332.5 V170.5 H334.5 V169.5 H336.5 V168.5 H338.5 V167.5 H340.5 V167.5 H342.5 V167.5 H344.5 V166.5 H346.5 V166.5 H348.5 V158.5 H350.5 V154.5 H352.5 V152.5 H354.5 V150.5 H356.5 V150.5 H358.5 V156.5 H360.5 V156.5 H362.5 V155.5 H364.5 V154.5 H366.5 V150.5 H368.5 V148.5 H370.5 V141.5 H372.5 V138.5 H374.5 V137.5 H376.5 V134.5 H378.5 V130.5 H380.5 V127.5 H382.5 V121.5 H384.5 V135.5 H386.5 V135.5 H388.5 V132.5 H390.5 V131.5 H392.5 V132.5 H394.5 V133.5 H396.5 V134.5 H398.5 V134.5 H400.5 V134.5 H402.5 V133.5 H404.5 V132.5 H406.5 V138.5 H408.5 V135.5 H410.5 V132.5 H412.5 V132.5 H414.5 V133.5 H416.5 V134.5 H418.5 V139.5 H420.5 V143.5 H422.5 V144.5 H424.5 V144.5 H426.5 V144.5 H428.5 V146.5 H430.5 V151.5 H432.5 V154.5 H434.5 V157.5 H436.5 V161.5 H438.5 V161.5 H440.5 V162.5 H442.5 V165.5 H444.5 V169.5 H446.5 V173.5 H448.5 V175.5 H450.5 V175.5 H452.5 V176.5 H454.5 V176.5 H456.5 V177.5 H458.5 V177.5 H460.5 V177.5 H462.5 V178.5 H464.5 V178.5 H466.5 V178.5 H468.5 V178.5 H470.5 V179.5 H472.5 V180.5 H474.5 V180.5" fill="none" stroke="#5a5a5a" stroke-width="0.95" stroke-dasharray="2.5 0.7"/>
<polyline points="302.5,178.5 304.4,175.1 308.8,172.6 311.9,168.2 315.7,160.1 320,148.8 322.6,136.3 324.9,125.1 326.5,112.6 328.7,99.4 331.2,88.8 334.3,82.5 336.2,79.4 339.3,90 341.2,98.8 343.1,111.4 344.9,119.5 347.5,127.5 349.4,138.8 351.3,146.3 353.2,155.1 355.7,160.1 357.5,163.9 361.3,172 363.8,174.5 366.9,177.6 370,179.5" fill="none" stroke="#111" stroke-width="1.4" stroke-linejoin="round" stroke-dasharray="3 1.8 0.7 1.8"/>
<polyline points="395,178.6 398.5,177.8 403.7,176.6 408.8,174.3 412.3,171.7 415.8,169.1 419.2,164.8 422.7,160.5 426.1,155.3 428.7,151 430.5,145.8 432.2,138.8 433.9,131.9 435.7,121.4 436.9,112.6 438.2,106.3 440,101.3 441.9,95.1 443.8,88.8 445,83.2 446.9,82.5 449.4,80 451.3,77.5 451.9,80 453.2,88.8 454.1,97.6 455.1,105.1 456.3,107.6 457.3,117.6 458.2,126.4 458.7,135.4 459.9,145.8 461.6,156.1 463.3,163.1 465.1,170 467.7,175.2 471.1,177.8 474.6,179 478,180" fill="none" stroke="#111" stroke-width="1.3" stroke-linejoin="round"/>
<polyline points="31,456.5 34.3,455 37,452.3 39.7,448.6 42.5,445.9 44.7,442.3 46.5,436.8 48.8,432.3 50.6,429.5 52.5,427.2 54.1,420.7 54.9,413.4 58.5,413 59.4,412.6 60.2,407 61.4,404.1 64.9,402.6 65.4,400.5 67.1,396.5 68.7,390 69.9,382.1 72,380.7 74.1,384.9 76.3,382.8 78.4,387.7 80.5,391.3 82.6,394.8 84,401.9 86.2,407.5 87.6,413.2 89.7,418.8 91.1,424.5 93.9,428.7 96.1,434.4 97.5,441.5 98.8,445.4 102.7,448.3 106.5,451.2 110.4,454 118,455 125,456.8" fill="none" stroke="#777" stroke-width="1.15" stroke-linejoin="round" stroke-dasharray="1.6 0.5"/>
<polyline points="29.5,456.5 31.5,454.1 34.3,450.5 35.6,447.7 38.8,443.2 41.1,439.1 42.9,431.8 45.2,426.8 47.3,419.1 48.1,414.3 50.1,407 50.9,402.1 52.1,394.9 52.5,388 52.9,381.2 53.9,376.4 56.4,370.3 57,365.5 57.6,358.8 60.6,355.8 62.4,349.1 63,353.3 64.8,361.8 66.1,367.9 67.3,372.7 68.5,376.4 70.3,383.5 71.8,396 74.1,403.3 74.9,408.9 76.3,417.4 77.7,423.1 79.8,430.2 81.9,435.8 84,440.8 86.4,446.7 91.2,452.7 96.1,456.8" fill="none" stroke="#111" stroke-width="1.4" stroke-linejoin="round" stroke-dasharray="3 1.8 0.7 1.8"/>
<polyline points="29,456.5 30.6,455.5 42.5,455 43.8,452.3 46.1,451.4 48.8,449.5 51.5,447.7 54.3,446.4 57,445.9 59.7,444.1 62.5,442.3 65.2,439.5 67,438.2 68.5,435.8 72.7,434.4 75.6,429.5 77.7,426.6 79.1,432.3 81.9,429.5 85.5,429.5 87.6,423.8 89.7,423.8 91.8,428 94.7,424.5 97.5,426.6 100.3,423.8 102.4,421.7 103.8,416 106.7,413.2 109.5,409.7 111.3,409.8 114.2,406.9 116.2,407.9 119,411.7 121.9,410.8 123.8,415.6 125.8,419.4 128.7,419.4 131.5,421.3 133.5,426.2 135.4,431 138.3,431.9 141.2,431.9 144,432.9 146,437.7 147.9,441.5 150.8,442.5 153.7,444.4 156.5,446.3 158.5,453.1 161.3,452.7 164.2,454.6 173.8,455 175.8,456.8" fill="none" stroke="#111" stroke-width="1.3" stroke-linejoin="round"/>
<polyline points="303.3,456.5 305.2,454.7 307.8,452.7 310.4,450.1 313.1,446.2 315.7,440.9 318.3,437 320.9,433.1 323.6,429.1 325.5,421.2 327.5,414.7 330.1,410.7 332.7,402.9 335.4,395.5 337.6,390.2 339.7,384.5 341.8,380.3 343.9,376 346.1,383.1 347.5,388.7 348.9,394.4 350.3,398.6 352.4,405 355.7,409.4 357.7,416 360.3,419.9 362.2,426.5 364.9,429.1 367.5,433.1 370.1,438.3 372.7,443.6 376,446.2 379.3,448.8 381.9,451.4 384.6,454.1 388.8,456.5 396.5,458" fill="none" stroke="#6e6e6e" stroke-width="1.15" stroke-linejoin="round" stroke-dasharray="1.6 0.5"/>
<polyline points="298.6,454.5 301.2,450.1 303.9,444.9 307.2,440.9 310.4,434.4 313.1,427.8 315.7,421.2 318.3,410.7 319.6,399 322,388.7 322.7,380.3 324.1,373.2 327,363.3 329.8,353.4 332.6,343.5 334.8,354.8 336.9,366.1 338.3,376 339.7,381.7 340.4,391.6 342.5,397.2 343.9,401.5 344.5,408.1 346.5,421.2 348.5,431.7 351.7,438.3 353.7,443.6 355.7,447.5 358,451.5 363.9,456.8" fill="none" stroke="#111" stroke-width="1.4" stroke-linejoin="round" stroke-dasharray="3 1.8 0.7 1.8"/>
<polyline points="298,456.5 299.9,455.4 307.8,454.7 311.7,453.4 315.7,452.1 319.6,451.4 322.2,449.5 326.2,448.8 330.1,450.1 332.7,448.1 335.4,447.5 338,448.8 340.6,447.5 343.9,448.8 347.8,450.1 351.7,451.4 355.7,452.7 359.6,451.4 363.6,452.1 367.5,452.1 370.1,449.5 372.7,446.2 374.7,444.9 376.7,446.2 379.3,444.2 381.3,441.6 383.9,442.2 386.9,442.5 389.8,440.6 392.7,436.7 396.5,437.7 399.4,433.8 402.3,431 405.2,427.1 408.1,423.3 411,417.5 412.9,411.7 414.8,406 417.7,403.1 419.6,404 421.5,398.3 424.4,395.8 427.3,397.3 430.2,399.2 433.1,401.2 436,408.8 437.9,415.6 439.8,419.4 441.7,427.1 444.6,437.7 447.5,447.3 450.4,454 454.2,456.9 458,458.8" fill="none" stroke="#111" stroke-width="1.3" stroke-linejoin="round"/>
</svg></body></html>
